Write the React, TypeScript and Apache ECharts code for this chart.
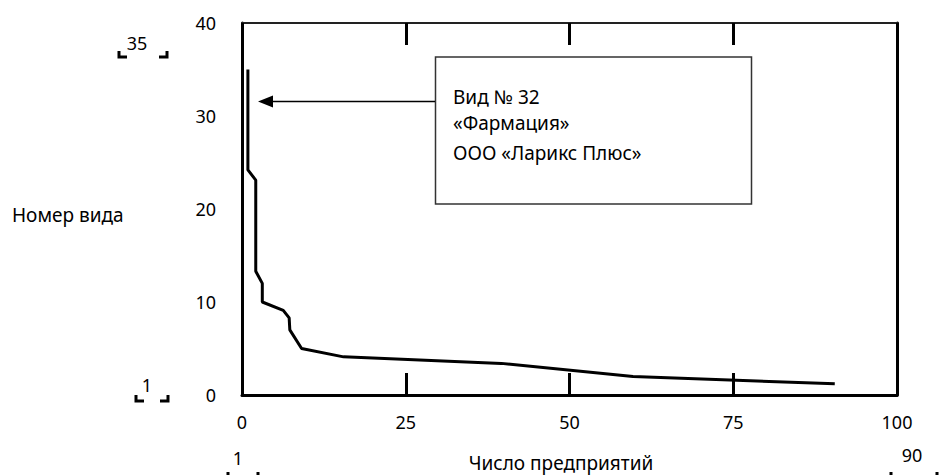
import React, { useEffect, useRef } from "react";
import * as echarts from "echarts";

const enterprises: number[] = [0.9, 0.9, 2.1, 2.1, 3.1, 3.1, 6.3, 7.2, 7.3, 9.1, 15.5, 39.6, 59.7, 90.5];
const speciesNo: number[] = [35, 24.2, 23.1, 13.3, 12, 10, 9.1, 8.3, 7.0, 5.0, 4.1, 3.4, 2.0, 1.2];
const xTicks: number[] = [0, 25, 50, 75, 100];
const yTicks: number[] = [0, 10, 20, 30, 40];
const annotationLines: string[] = ["Вид № 32", "«Фармация»", "ООО «Ларикс Плюс»"];
const xAxisTitle = "Число предприятий";
const yAxisTitle = "Номер вида";

const FONT = "'Noto Sans', sans-serif";
const FS = 19;
const NFS = 18;

function bracket(cx: number, y: number, label: string, half: number, lx: number, ly: number) {
  const els: any[] = [
    {
      type: "text",
      x: lx,
      y: ly,
      style: { text: label, font: `${NFS}px ${FONT}`, fill: "#000", align: "center", verticalAlign: "middle" },
    },
    {
      type: "polyline",
      shape: { points: [[cx - half, y - 6], [cx - half, y], [cx - half + 8, y]] },
      style: { stroke: "#000", lineWidth: 3, fill: "none" },
    },
    {
      type: "polyline",
      shape: { points: [[cx + half, y - 6], [cx + half, y], [cx + half - 8, y]] },
      style: { stroke: "#000", lineWidth: 3, fill: "none" },
    },
  ];
  return els;
}

export default function App() {
  const ref = useRef<HTMLDivElement>(null);
  useEffect(() => {
    if (!ref.current) return;
    document.body.style.margin = "0";
    const chart = echarts.init(ref.current, undefined, { renderer: "svg" });
    const data = enterprises.map((x, i) => [x, speciesNo[i]]);
    const labelStyle = { color: "#000", fontSize: NFS, fontFamily: FONT };
    chart.setOption({
      animation: false,
      backgroundColor: "#fff",
      grid: { left: 242, top: 23, width: 655, height: 372, containLabel: false },
      xAxis: [
        {
          type: "value",
          min: xTicks[0],
          max: xTicks[xTicks.length - 1],
          interval: 25,
          position: "bottom",
          axisLine: { show: true, onZero: false, lineStyle: { color: "#000", width: 3 } },
          axisTick: { show: true, inside: true, length: 22, lineStyle: { color: "#000", width: 3 } },
          axisLabel: { ...labelStyle, margin: 18 },
          splitLine: { show: false },
        },
        {
          type: "value",
          min: xTicks[0],
          max: xTicks[xTicks.length - 1],
          interval: 25,
          position: "top",
          axisLine: { show: true, onZero: false, lineStyle: { color: "#222", width: 2 } },
          axisTick: { show: true, inside: true, length: 22, lineStyle: { color: "#000", width: 3 } },
          axisLabel: { show: false },
          splitLine: { show: false },
        },
      ],
      yAxis: [
        {
          type: "value",
          min: yTicks[0],
          max: yTicks[yTicks.length - 1],
          interval: 10,
          position: "left",
          axisLine: { show: true, onZero: false, lineStyle: { color: "#000", width: 3 } },
          axisTick: { show: false },
          axisLabel: { ...labelStyle, margin: 26 },
          splitLine: { show: false },
        },
        {
          type: "value",
          min: yTicks[0],
          max: yTicks[yTicks.length - 1],
          interval: 10,
          position: "right",
          axisLine: { show: true, onZero: false, lineStyle: { color: "#000", width: 3 } },
          axisTick: { show: false },
          axisLabel: { show: false },
          splitLine: { show: false },
        },
      ],
      series: [
        {
          type: "line",
          data,
          showSymbol: false,
          symbol: "none",
          lineStyle: { color: "#000", width: 3 },
          z: 3,
        },
      ],
      graphic: [
        {
          type: "text",
          x: 12,
          y: 215,
          style: { text: yAxisTitle, font: `${FS}px ${FONT}`, fill: "#000", verticalAlign: "middle" },
        },
        {
          type: "text",
          x: 561,
          y: 463,
          style: { text: xAxisTitle, font: `${FS}px ${FONT}`, fill: "#000", align: "center", verticalAlign: "middle" },
        },
        {
          type: "rect",
          shape: { x: 435.5, y: 57, width: 316, height: 147 },
          style: { fill: "#fff", stroke: "#333", lineWidth: 1.5 },
          z: 10,
        },
        ...annotationLines.map((t, i) => ({
          type: "text",
          x: 453,
          y: [97, 123, 153][i],
          z: 11,
          style: { text: t, font: `${FS}px ${FONT}`, fill: "#000", verticalAlign: "middle" },
        })),
        {
          type: "line",
          shape: { x1: 272, y1: 101.5, x2: 435, y2: 101.5 },
          style: { stroke: "#000", lineWidth: 1.5 },
          z: 11,
        },
        {
          type: "polygon",
          shape: { points: [[258, 101.5], [273, 95.5], [273, 107.5]] },
          style: { fill: "#000" },
          z: 11,
        },
        ...bracket(143, 57, "35", 24, 137, 43),
        ...bracket(152, 401, "1", 16, 147, 385),
        ...bracket(243, 478, "1", 15, 238, 458),
        ...bracket(914, 478, "90", 23, 912, 455),
      ],
    });
    return () => chart.dispose();
  }, []);
  return <div ref={ref} style={{ position: "absolute", left: 0, top: 0, width: 939, height: 475 }} />;
}
